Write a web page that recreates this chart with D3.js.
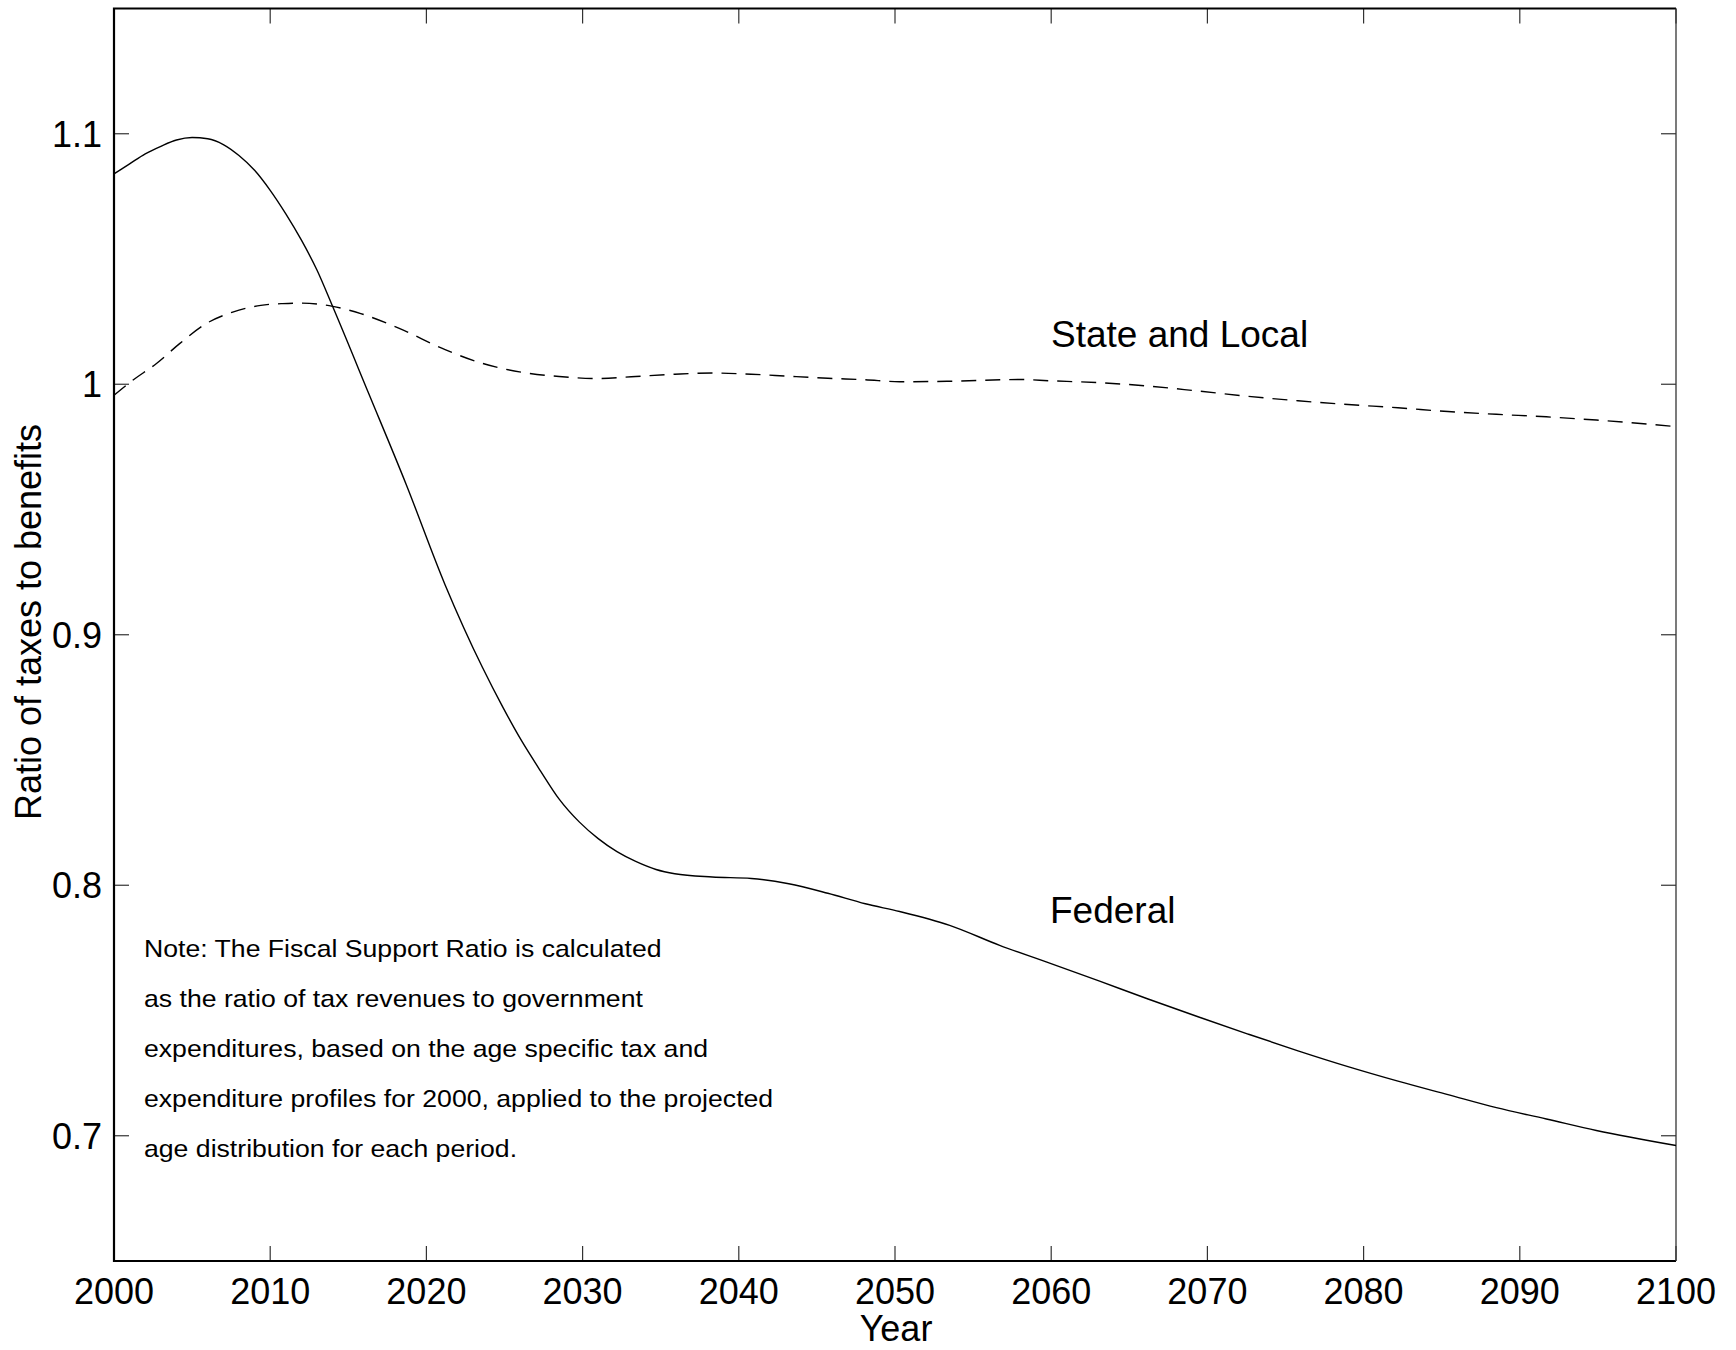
<!DOCTYPE html>
<html>
<head>
<meta charset="utf-8">
<script src="https://cdn.jsdelivr.net/npm/d3@7"></script>
<style>
    body { margin: 0; background: #fff; }
    svg { display: block; font-family: "Liberation Sans", Arial, sans-serif; }
</style>
</head>
<body>
<svg id="chart" width="1736" height="1350"></svg>
<script>
// Federal ratio of taxes to benefits
const federal_years = [2000, 2001, 2002, 2003, 2004, 2005, 2006, 2007, 2008, 2009, 2010, 2011, 2012, 2013, 2014,
    2016.3, 2018.7, 2021.2, 2023.6, 2024.9, 2026.1, 2027.3, 2028.5, 2029.8, 2031.0, 2032.2, 2033.4, 2034.7, 2035.9,
    2038.3, 2040.8, 2043.2, 2045.7, 2048.1, 2050.3, 2053.5, 2056.7, 2059.9, 2063.1, 2066.2, 2069.4, 2072.6, 2075.8,
    2079.0, 2082.2, 2085.4, 2088.5, 2091.7, 2094.9, 2100];
const federal_values = [1.084, 1.088, 1.092, 1.095, 1.0975, 1.0985, 1.098, 1.0957, 1.0913, 1.0854, 1.0774, 1.068, 1.0575, 1.0455, 1.031,
    0.9964, 0.9601, 0.9199, 0.8868, 0.8710, 0.8576, 0.8457, 0.8344, 0.8252, 0.8186, 0.8134, 0.8095, 0.8063, 0.8046,
    0.8033, 0.8027, 0.8006, 0.7968, 0.7926, 0.7895, 0.7840, 0.7760, 0.7689, 0.7617, 0.7546, 0.7475, 0.7406, 0.7339,
    0.7276, 0.7218, 0.7164, 0.7112, 0.7067, 0.7021, 0.6961];

// State and local (dashed)
const state_years = [2000, 2001.2, 2002.7, 2004.2, 2005.9, 2007.6, 2009.4, 2010.8, 2011.9, 2013.2, 2014.0, 2015.8,
    2018.3, 2021.2, 2023.6, 2026.1, 2028.5, 2031.0, 2033.4, 2035.9, 2038.3, 2040.8, 2043.2, 2045.7, 2048.1, 2050.3,
    2053.5, 2058.0, 2059.9, 2063.1, 2066.2, 2069.4, 2072.6, 2075.8, 2079.0, 2082.2, 2085.4, 2088.5, 2091.7, 2094.9, 2100];
const state_values = [0.9956, 1.0016, 1.0082, 1.0162, 1.0242, 1.0288, 1.0315, 1.0322, 1.0324, 1.0319, 1.0311, 1.0282,
    1.0222, 1.0138, 1.0083, 1.0048, 1.0031, 1.0023, 1.0031, 1.0040, 1.0045, 1.0040, 1.0032, 1.0024, 1.0018, 1.0010,
    1.0012, 1.0019, 1.0014, 1.0006, 0.9993, 0.9973, 0.9952, 0.9934, 0.9919, 0.9906, 0.9891, 0.9880, 0.9870, 0.9857, 0.9831];

const x_ticks = [2000, 2010, 2020, 2030, 2040, 2050, 2060, 2070, 2080, 2090, 2100];
const y_ticks = [0.7, 0.8, 0.9, 1, 1.1];

const note_lines = [
    "Note: The Fiscal Support Ratio is calculated",
    "as the ratio of tax revenues to government",
    "expenditures, based on the age specific tax and",
    "expenditure profiles for 2000, applied to the projected",
    "age distribution for each period."
];

function draw_chart(svg) {
    let left = 114, right = 1676, top = 8.5, bottom = 1261;
    let tick_len = 15;

    let x = d3.scaleLinear().domain([2000, 2100]).range([left, right]);
    let y = d3.scaleLinear().domain([0.65, 1.15]).range([bottom, top]);

    // ticks on all four sides, pointing inward
    const tick_g = svg.append("g").attr("stroke", "#333").attr("stroke-width", 1.2);
    tick_g.selectAll("line.xb").data(x_ticks).join("line")
        .attr("x1", d => x(d)).attr("x2", d => x(d))
        .attr("y1", bottom).attr("y2", bottom - tick_len);
    tick_g.selectAll("line.xt").data(x_ticks).join("line")
        .attr("x1", d => x(d)).attr("x2", d => x(d))
        .attr("y1", top).attr("y2", top + tick_len);
    tick_g.selectAll("line.yl").data(y_ticks).join("line")
        .attr("x1", left).attr("x2", left + tick_len)
        .attr("y1", d => y(d)).attr("y2", d => y(d));
    tick_g.selectAll("line.yr").data(y_ticks).join("line")
        .attr("x1", right).attr("x2", right - tick_len)
        .attr("y1", d => y(d)).attr("y2", d => y(d));

    // frame
    svg.append("path")
        .attr("d", `M${right},${top}H${left}V${bottom}H${right}`)
        .attr("fill", "none").attr("stroke", "#000").attr("stroke-width", 2.2);
    svg.append("line")
        .attr("x1", right).attr("x2", right).attr("y1", top).attr("y2", bottom)
        .attr("stroke", "#333").attr("stroke-width", 1.3);

    // tick labels
    svg.append("g").selectAll("text").data(x_ticks).join("text")
        .attr("x", d => x(d)).attr("y", 1304)
        .attr("text-anchor", "middle").attr("font-size", "36px")
        .text(d => d);
    svg.append("g").selectAll("text").data(y_ticks).join("text")
        .attr("x", left - 12).attr("y", d => y(d) + 13)
        .attr("text-anchor", "end").attr("font-size", "36px")
        .text(d => d);

    // axis titles
    svg.append("text")
        .attr("x", 896).attr("y", 1341)
        .attr("text-anchor", "middle").attr("font-size", "36px")
        .text("Year");
    svg.append("text")
        .attr("transform", "translate(41,622) rotate(-90)")
        .attr("text-anchor", "middle").attr("font-size", "36px")
        .text("Ratio of taxes to benefits");

    // series
    const line = d3.line()
        .x(d => x(d[0]))
        .y(d => y(d[1]))
        .curve(d3.curveMonotoneX);

    const federal = federal_years.map((yr, i) => [yr, federal_values[i]]);
    const state = state_years.map((yr, i) => [yr, state_values[i]]);

    svg.append("path")
        .datum(federal)
        .attr("d", line)
        .attr("fill", "none").attr("stroke", "#000").attr("stroke-width", 1.4);

    svg.append("path")
        .datum(state)
        .attr("d", line)
        .attr("fill", "none").attr("stroke", "#000").attr("stroke-width", 1.4)
        .attr("stroke-dasharray", "15,9");

    // series labels
    svg.append("text")
        .attr("x", 1051).attr("y", 346.7)
        .attr("font-size", "37px")
        .text("State and Local");
    svg.append("text")
        .attr("x", 1050).attr("y", 923.3)
        .attr("font-size", "37px")
        .text("Federal");

    // note block
    const note_g = svg.append("g");
    note_g.selectAll("text").data(note_lines).join("text")
        .attr("transform", (d, i) => `translate(144,${956.7 + i * 50.1}) scale(1.11,1)`)
        .attr("font-size", "24px")
        .text(d => d);
}

draw_chart(d3.select("#chart"));
</script>
</body>
</html>
